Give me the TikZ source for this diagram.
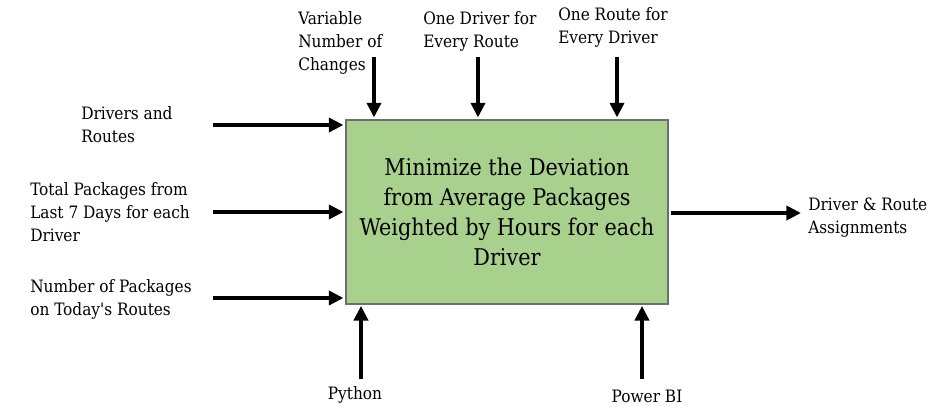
\documentclass[tikz,border=0pt]{standalone}
\usepackage{fontspec}
\setmainfont{DejaVu Serif Condensed}
\usetikzlibrary{arrows.meta}
\definecolor{boxgreen}{HTML}{A9D18E}
\definecolor{boxedge}{HTML}{6E6E6E}
\begin{document}
\begin{tikzpicture}[x=0.75pt,y=-0.75pt,
  lbl/.style={inner sep=0pt,align=left,font=\fontsize{12.8}{17.25}\selectfont},
  clbl/.style={inner sep=0pt,align=center,font=\fontsize{12.8}{17.25}\selectfont},
  flow/.style={line width=3pt,-{Triangle[length=11pt,width=10.5pt]}},
  mainbox/.style={draw=boxedge,line width=0.8pt,fill=boxgreen,inner sep=0pt,
    minimum width=322*0.75pt,minimum height=184*0.75pt,align=center,
    font=\fontsize{17.3}{22.5}\selectfont}]
\useasboundingbox (0,0) rectangle (929,407);
\node[mainbox] (box) at (507,212) {Minimize the Deviation\\from Average Packages\\Weighted by Hours for each\\Driver};
% labels
\node[lbl,anchor=west] (var) at (298,43) {Variable\\Number of\\Changes};
\node[lbl,anchor=west] (odr) at (423,31.5) {One Driver for\\Every Route};
\node[lbl,anchor=west] (ord) at (558,27) {One Route for\\Every Driver};
\node[lbl,anchor=west] (dr) at (81,124.5) {Drivers and\\Routes};
\node[lbl,anchor=west] (tp) at (30,212) {Total Packages from\\Last 7 Days for each\\Driver};
\node[lbl,anchor=west] (np) at (30,299.5) {Number of Packages\\on Today\textquotesingle s Routes};
\node[lbl,anchor=west] (out) at (808,217.5) {Driver \& Route\\Assignments};
\node[clbl] (py) at (355,395) {Python};
\node[clbl] (pbi) at (647,396) {Power BI};
% arrow start points
\coordinate (a1) at (213,125);
\coordinate (a2) at (213,212);
\coordinate (a3) at (213,298);
\coordinate (t1) at (374,57);
\coordinate (t2) at (478,57);
\coordinate (t3) at (617,57);
\coordinate (b1) at (361,379);
\coordinate (b2) at (642,379);
\coordinate (o1) at (801,213);
\draw[flow,shorten >=1.5pt] (a1) -- (a1 -| box.west);
\draw[flow,shorten >=1.5pt] (a2) -- (a2 -| box.west);
\draw[flow,shorten >=1.5pt] (a3) -- (a3 -| box.west);
\draw[flow,shorten >=1.5pt] (t1) -- (t1 |- box.north);
\draw[flow,shorten >=1.5pt] (t2) -- (t2 |- box.north);
\draw[flow,shorten >=1.5pt] (t3) -- (t3 |- box.north);
\draw[flow,shorten >=1pt] (b1) -- (b1 |- box.south);
\draw[flow,shorten >=1pt] (b2) -- (b2 |- box.south);
\draw[flow,shorten <=1.5pt] (o1 -| box.east) -- (o1);
\end{tikzpicture}
\end{document}
